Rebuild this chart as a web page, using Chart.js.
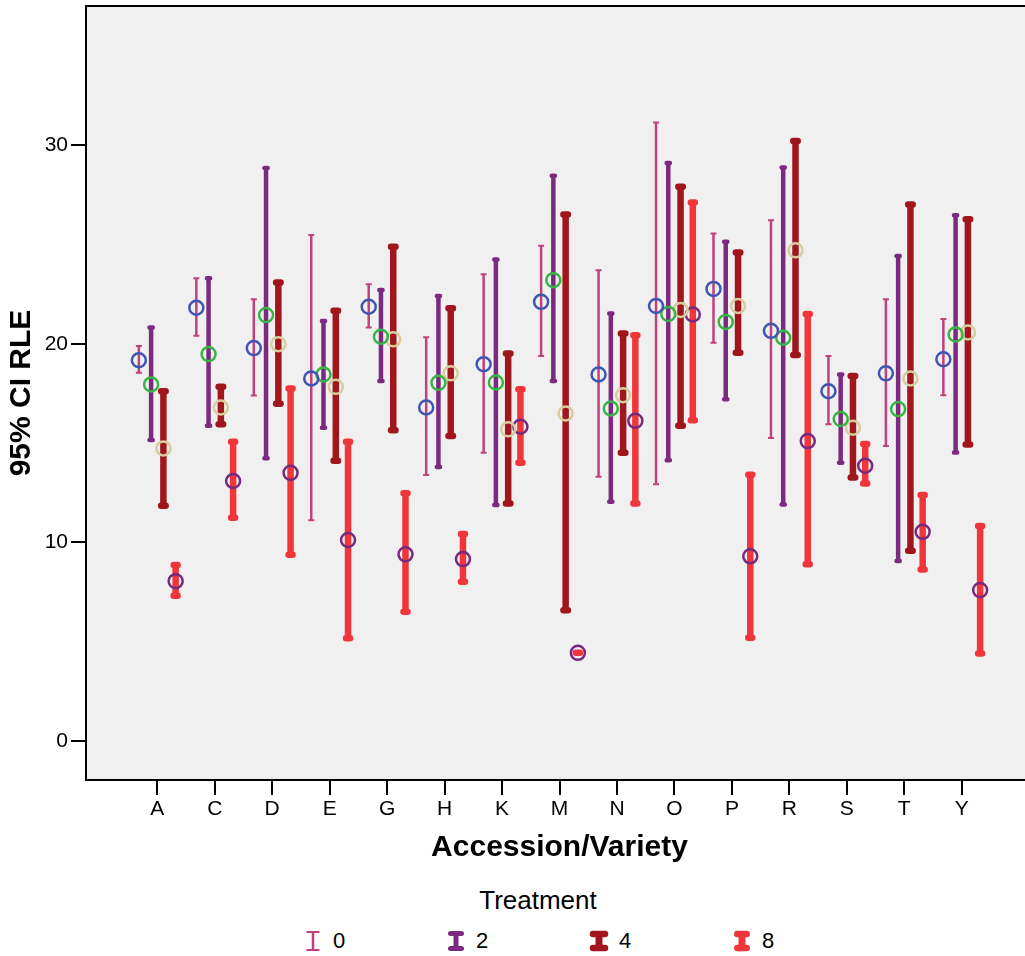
<!DOCTYPE html>
<html><head><meta charset="utf-8">
<script src="https://cdn.jsdelivr.net/npm/chart.js@4.4.1/dist/chart.umd.min.js"></script>
<style>
html,body{margin:0;padding:0;background:#fff;overflow:hidden;width:1025px;height:956px;}
#wrap{position:absolute;left:0;top:0;width:1040px;height:880px;}
#legendTitle{position:absolute;left:538px;top:887px;transform:translateX(-50%);font:26px "Liberation Sans",Arial,sans-serif;line-height:26px;color:#000;white-space:nowrap;}
#legend{position:absolute;left:298px;top:930px;display:flex;}
.item{width:143px;display:flex;align-items:flex-start;}
.item canvas{display:block;margin-right:5px;}
.item span{font:22px "Liberation Sans",Arial,sans-serif;line-height:22px;color:#000;}
</style></head><body>
<div id="wrap"><canvas id="c" width="1040" height="880"></canvas></div>
<div id="legendTitle">Treatment</div>
<div id="legend"></div>
<script>
// ---- data ----
const categories = ['A','C','D','E','G','H','K','M','N','O','P','R','S','T','Y'];
const treatments = ['0','2','4','8'];
const yTicks = [0, 10, 20, 30];

const mean0 = [19.17, 21.81, 19.78, 18.25, 21.86, 16.79, 18.97, 22.11, 18.45, 21.90, 22.76, 20.65, 17.61, 18.51, 19.22];
const low0  = [18.54, 20.40, 17.40, 11.12, 20.82, 13.39, 14.51, 19.38, 13.30, 12.93, 20.05, 15.26, 15.95, 14.85, 17.41];
const high0 = [19.89, 23.29, 22.24, 25.47, 23.00, 20.32, 23.50, 24.93, 23.70, 31.14, 25.55, 26.22, 19.38, 22.24, 21.24];

const mean2 = [17.95, 19.48, 21.44, 18.45, 20.35, 18.03, 18.05, 23.20, 16.74, 21.50, 21.10, 20.30, 16.21, 16.71, 20.47];
const low2  = [15.15, 15.87, 14.23, 15.77, 18.12, 13.80, 11.88, 18.13, 12.04, 14.14, 17.20, 11.91, 14.01,  9.06, 14.53];
const high2 = [20.82, 23.29, 28.85, 21.15, 22.70, 22.40, 24.24, 28.45, 21.52, 29.10, 25.13, 28.87, 18.45, 24.41, 26.47];

const mean4 = [14.73, 16.79, 19.98, 17.83, 20.22, 18.51, 15.69, 16.49, 17.41, 21.70, 21.90, 24.70, 15.77, 18.25, 20.57];
const low4  = [11.84, 15.95, 16.98, 14.11, 15.65, 15.35, 11.96,  6.59, 14.51, 15.87, 19.54, 19.43, 13.27,  9.58, 14.93];
const high4 = [17.61, 17.83, 23.08, 21.66, 24.88, 21.78, 19.51, 26.51, 20.52, 27.90, 24.59, 30.21, 18.37, 27.01, 26.27];

const mean8 = [ 8.05, 13.09, 13.50, 10.12,  9.40,  9.16, 15.82,  4.44, 16.12, 21.47,  9.30, 15.10, 13.86, 10.53,  7.60];
const low8  = [ 7.31, 11.24,  9.38,  5.17,  6.51,  8.02, 14.01,  4.44, 11.96, 16.15,  5.20,  8.90, 12.97,  8.64,  4.41];
const high8 = [ 8.86, 15.06, 17.75, 15.06, 12.47, 10.42, 17.71,  4.44, 20.43, 27.11, 13.40, 21.50, 14.95, 12.38, 10.82];

const means = [mean0, mean2, mean4, mean8];
const lows  = [low0, low2, low4, low8];
const highs = [high0, high2, high4, high8];

// ---- styles ----
const FONT = '"Liberation Sans", Arial, sans-serif';
const seriesStyle = [
  {offset:-0.32,  bar:'#C1407E', circle:'#3F55B2', barW:2.5, capHalf:3,    capW:2,   round:false, lg:{barW:2.5, capHalf:6.5, capW:2.2, round:false, t:2, b:20}},
  {offset:-0.107, bar:'#7B2A80', circle:'#37B544', barW:4.5, capHalf:1.6,  capW:4.5, round:true,  lg:{barW:5,   capHalf:5.5, capW:5,   round:true,  t:3.5, b:18.5}},
  {offset:0.107,  bar:'#A1161C', circle:'#D7CC9D', barW:6.5, capHalf:2.25, capW:6.5, round:true,  lg:{barW:7,   capHalf:6,   capW:6.5, round:true,  t:4, b:18}},
  {offset:0.32,   bar:'#F0363B', circle:'#77297F', barW:6.5, capHalf:2,    capW:6.5, round:true,  lg:{barW:7,   capHalf:4.7, capW:6.5, round:true,  t:4, b:18}}
];

function drawErrorBar(ctx, x, yt, yb, color, barW, capHalf, capW, round){
  ctx.save();
  ctx.strokeStyle = color;
  ctx.lineCap = 'butt';
  ctx.lineWidth = barW;
  ctx.beginPath(); ctx.moveTo(x, yt); ctx.lineTo(x, yb); ctx.stroke();
  ctx.lineWidth = capW;
  ctx.lineCap = round ? 'round' : 'butt';
  ctx.beginPath();
  ctx.moveTo(x - capHalf, yt); ctx.lineTo(x + capHalf, yt);
  ctx.moveTo(x - capHalf, yb); ctx.lineTo(x + capHalf, yb);
  ctx.stroke();
  ctx.restore();
}

const plotFrame = {
  id:'plotFrame',
  beforeDraw(chart){
    const {ctx, chartArea:a} = chart;
    ctx.save(); ctx.fillStyle = '#F0F0F0';
    ctx.fillRect(a.left, a.top, a.right - a.left, a.bottom - a.top);
    ctx.restore();
  },
  afterDraw(chart){
    const {ctx, chartArea:a} = chart;
    ctx.save(); ctx.strokeStyle = '#000'; ctx.lineWidth = 2;
    ctx.beginPath();
    ctx.moveTo(a.left - 1, a.top); ctx.lineTo(a.right + 1, a.top);
    ctx.moveTo(a.right, a.top); ctx.lineTo(a.right, a.bottom);
    ctx.stroke(); ctx.restore();
  }
};

const errorBars = {
  id:'errorBars',
  beforeDatasetsDraw(chart){
    const xs = chart.scales.x, ys = chart.scales.y, ctx = chart.ctx;
    seriesStyle.forEach((st, s) => {
      categories.forEach((c, i) => {
        const x = xs.getPixelForValue(i + st.offset);
        drawErrorBar(ctx, x, ys.getPixelForValue(highs[s][i]), ys.getPixelForValue(lows[s][i]),
                     st.bar, st.barW, st.capHalf, st.capW, st.round);
      });
    });
  }
};

const datasets = treatments.map((t, s) => ({
  label: t,
  data: categories.map((c, i) => ({x: i + seriesStyle[s].offset, y: means[s][i]})),
  pointRadius: 7,
  pointBorderWidth: 2.5,
  pointBorderColor: seriesStyle[s].circle,
  pointBackgroundColor: 'rgba(0,0,0,0)',
  pointStyle: 'circle',
  showLine: false
}));

new Chart(document.getElementById('c'), {
  type: 'scatter',
  data: { datasets },
  plugins: [plotFrame, errorBars],
  options: {
    responsive: false, animation: false, devicePixelRatio: 1,
    layout: { autoPadding: false, padding: {top: 6, right: 7, bottom: 0, left: 0} },
    plugins: { legend: {display: false}, tooltip: {enabled: false} },
    scales: {
      x: {
        type: 'linear', min: -1.24, max: 15.24,
        afterBuildTicks: s => { s.ticks = categories.map((c, i) => ({value: i})); },
        afterFit: s => { s.height = 100; s.paddingLeft = 0; s.paddingRight = 0; },
        ticks: { callback: v => categories[v], font: {family: FONT, size: 21}, color: '#000', padding: 2, maxRotation: 0, autoSkip: false },
        grid: { drawOnChartArea: false, drawTicks: true, tickLength: 15, color: '#000', lineWidth: 2 },
        border: { display: true, color: '#000', width: 2 },
        title: { display: true, text: 'Accession/Variety', font: {family: FONT, size: 30, weight: 'bold'}, color: '#000', padding: {top: 0, bottom: 14} }
      },
      y: {
        type: 'linear', min: -1.96, max: 37,
        afterBuildTicks: s => { s.ticks = yTicks.map(v => ({value: v})); },
        afterFit: s => { s.width = 86; s.paddingTop = 0; s.paddingBottom = 0; },
        ticks: { font: {family: FONT, size: 21}, color: '#000', padding: 3 },
        grid: { drawOnChartArea: false, drawTicks: true, tickLength: 15, color: '#000', lineWidth: 2 },
        border: { display: true, color: '#000', width: 2 },
        title: { display: true, text: '95% CI RLE', font: {family: FONT, size: 30, weight: 'bold'}, color: '#000', padding: {top: 4, bottom: 0} }
      }
    }
  }
});

// ---- legend ----
const legendEl = document.getElementById('legend');
treatments.forEach((t, s) => {
  const item = document.createElement('div'); item.className = 'item';
  const cv = document.createElement('canvas'); cv.width = 30; cv.height = 22;
  const lg = seriesStyle[s].lg;
  drawErrorBar(cv.getContext('2d'), 15, lg.t, lg.b, seriesStyle[s].bar, lg.barW, lg.capHalf, lg.capW, lg.round);
  const sp = document.createElement('span'); sp.textContent = t;
  item.appendChild(cv); item.appendChild(sp);
  legendEl.appendChild(item);
});
</script>
</body></html>
